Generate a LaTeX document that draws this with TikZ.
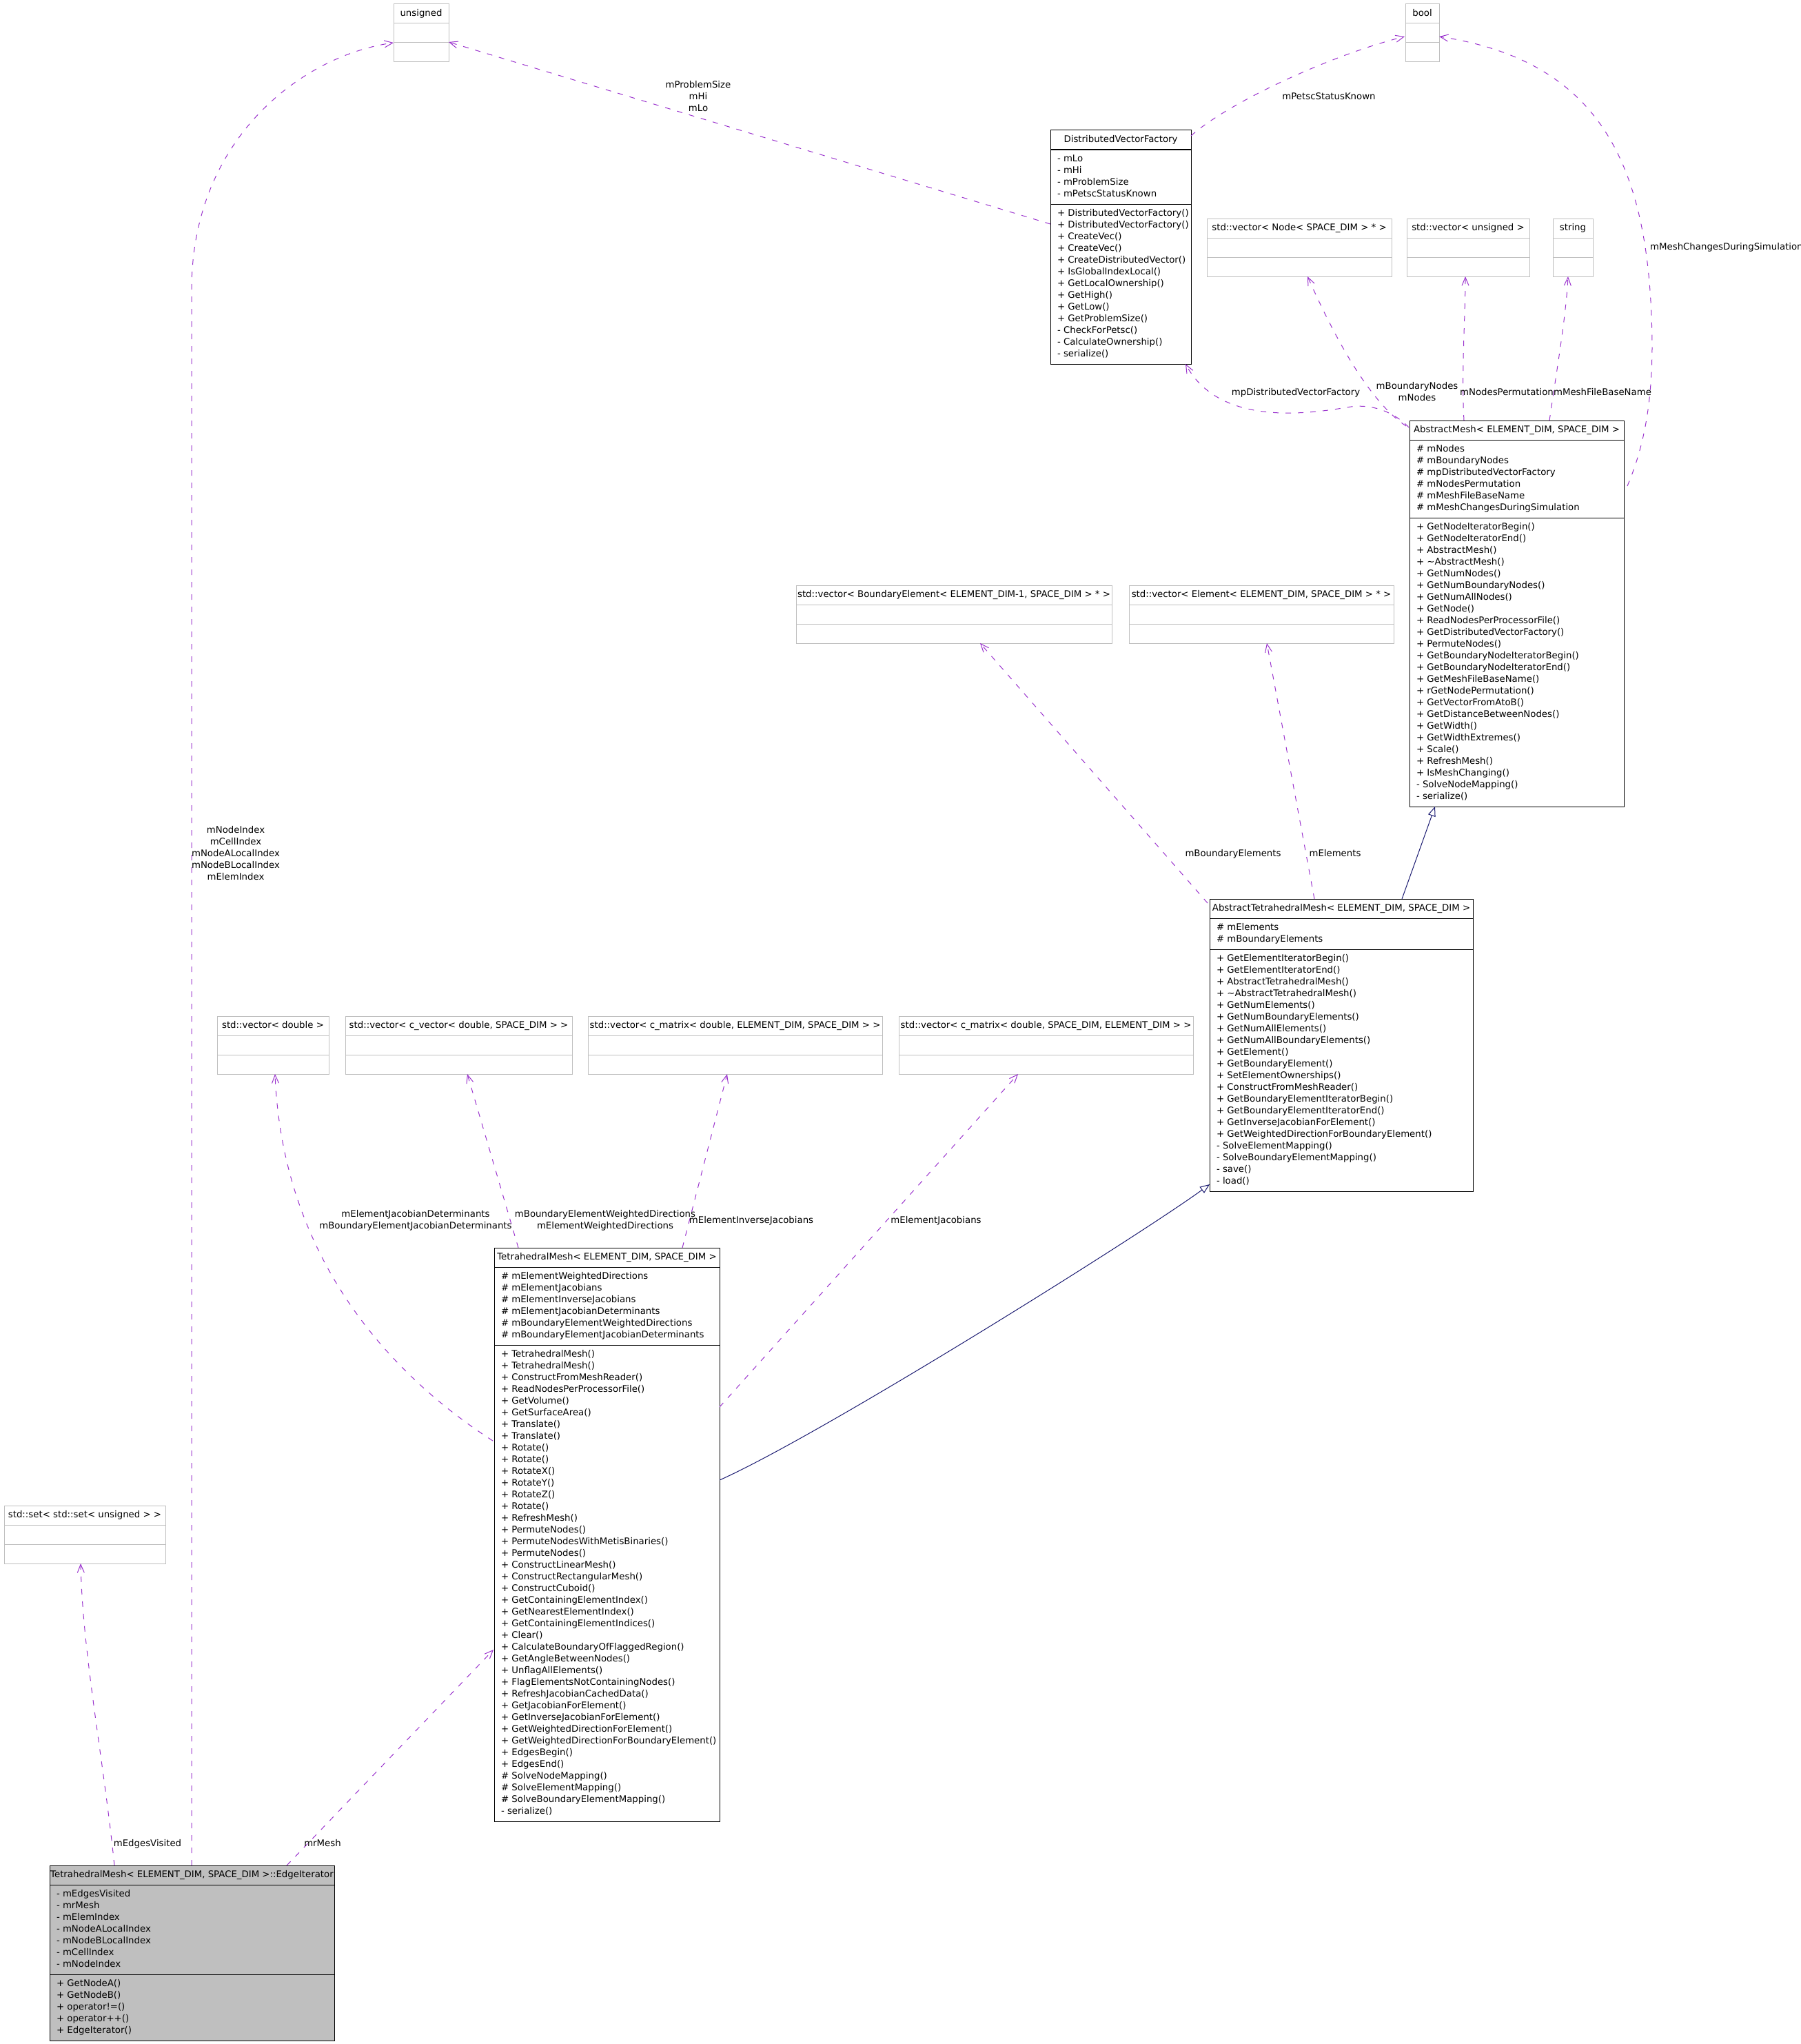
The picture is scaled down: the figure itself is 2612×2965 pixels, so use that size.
\documentclass[tikz,border=0pt]{standalone}
\usepackage{fontspec}
\newfontfamily\dvfont{DejaVu Sans}
\usetikzlibrary{arrows.meta,calc}
\definecolor{orch}{RGB}{154,50,205}
\definecolor{mnblue}{RGB}{25,25,112}
\definecolor{greyse}{RGB}{191,191,191}
\newcommand\classfont{\dvfont\fontsize{13.3}{17}\selectfont}
\tikzset{
  txt/.style={font=\classfont, inner sep=0pt, outer sep=0pt, text=black},
  clsbox/.style={draw=black, line width=1pt, fill=white},
  clsdiv/.style={draw=black, line width=1pt},
  eibox/.style={draw=black, line width=1pt, fill=greyse},
  typbox/.style={draw=greyse, line width=1pt, fill=white},
  typdiv/.style={draw=greyse, line width=1pt},
  usearrow/.style={draw=orch, line width=1pt, dash pattern=on 8pt off 10pt,
    -{Straight Barb[length=12pt,width=10pt,line width=1pt]}},
  inhearrow/.style={draw=mnblue, line width=1pt,
    -{Triangle[open,length=14pt,width=11pt,line width=1pt,fill=white]}},
  lbl/.style={font=\classfont, inner sep=0pt, align=center, text=black},
}
\newcommand\boxstyle{clsbox}
\newcommand\divstyle{clsdiv}
% name, x1, x2, ytop, nattr, nmeth, title, attrs, meths
\newcommand\umlbox[9]{%
  \pgfmathsetmacro\ya{#4+28}%
  \pgfmathsetmacro\yb{\ya+#5*17+11}%
  \pgfmathsetmacro\yc{\yb+#6*17+11}%
  \pgfmathsetmacro\bw{#3-#2}%
  \pgfmathsetmacro\bh{\yc-#4}%
  \node[\boxstyle, anchor=north west, minimum width=\bw pt, minimum height=\bh pt,
        inner sep=0pt, outer sep=0pt] (#1) at (#2,#4) {};
  \draw[\divstyle] (#2,\ya) -- (#3,\ya) (#2,\yb) -- (#3,\yb);
  \node[txt, anchor=base] (#1-title) at ({(#2+#3)/2},#4+17.5) {#7};
  \node[txt, anchor=north west, align=left] (#1-attr) at (#2+10,\ya+5.6) {\strut#8};
  \node[txt, anchor=north west, align=left] (#1-meth) at (#2+10,\yb+5.6) {\strut#9};
}
\begin{document}
\begin{tikzpicture}[x=1pt,y=-1pt]
\useasboundingbox (0,0) rectangle (2612,2965);

% ---------- type boxes (grey) ----------
\renewcommand\boxstyle{typbox}\renewcommand\divstyle{typdiv}
\umlbox{uns}{571}{651}{6}{1}{1}{unsigned}{}{}
\umlbox{bool}{2039}{2088}{6}{1}{1}{bool}{}{}
\umlbox{nv}{1751}{2019}{317}{1}{1}{std::vector< Node< SPACE\_DIM > * >}{}{}
\umlbox{uv}{2041}{2219}{317}{1}{1}{std::vector< unsigned >}{}{}
\umlbox{str}{2253}{2311}{317}{1}{1}{string}{}{}
\umlbox{bev}{1155}{1613}{849}{1}{1}{std::vector< BoundaryElement< ELEMENT\_DIM-1, SPACE\_DIM > * >}{}{}
\umlbox{ev}{1638}{2022}{849}{1}{1}{std::vector< Element< ELEMENT\_DIM, SPACE\_DIM > * >}{}{}
\umlbox{dbl}{315}{477}{1474}{1}{1}{std::vector< double >}{}{}
\umlbox{cvec}{501}{830}{1474}{1}{1}{std::vector< c\_vector< double, SPACE\_DIM > >}{}{}
\umlbox{cmes}{853}{1280}{1474}{1}{1}{std::vector< c\_matrix< double, ELEMENT\_DIM, SPACE\_DIM > >}{}{}
\umlbox{cmse}{1304}{1731}{1474}{1}{1}{std::vector< c\_matrix< double, SPACE\_DIM, ELEMENT\_DIM > >}{}{}
\umlbox{set}{6}{240}{2184}{1}{1}{std::set< std::set< unsigned > >}{}{}

% ---------- class boxes ----------
\renewcommand\boxstyle{clsbox}\renewcommand\divstyle{clsdiv}
\umlbox{dvf}{1524}{1728}{189}{4}{13}{DistributedVectorFactory}%
{- mLo\\- mHi\\- mProblemSize\\- mPetscStatusKnown}%
{+ DistributedVectorFactory()\\+ DistributedVectorFactory()\\+ CreateVec()\\+ CreateVec()\\+ CreateDistributedVector()\\+ IsGlobalIndexLocal()\\+ GetLocalOwnership()\\+ GetHigh()\\+ GetLow()\\+ GetProblemSize()\\- CheckForPetsc()\\- CalculateOwnership()\\- serialize()}

\umlbox{am}{2045}{2356}{610}{6}{24}{AbstractMesh< ELEMENT\_DIM, SPACE\_DIM >}%
{\# mNodes\\\# mBoundaryNodes\\\# mpDistributedVectorFactory\\\# mNodesPermutation\\\# mMeshFileBaseName\\\# mMeshChangesDuringSimulation}%
{+ GetNodeIteratorBegin()\\+ GetNodeIteratorEnd()\\+ AbstractMesh()\\+ \textasciitilde AbstractMesh()\\+ GetNumNodes()\\+ GetNumBoundaryNodes()\\+ GetNumAllNodes()\\+ GetNode()\\+ ReadNodesPerProcessorFile()\\+ GetDistributedVectorFactory()\\+ PermuteNodes()\\+ GetBoundaryNodeIteratorBegin()\\+ GetBoundaryNodeIteratorEnd()\\+ GetMeshFileBaseName()\\+ rGetNodePermutation()\\+ GetVectorFromAtoB()\\+ GetDistanceBetweenNodes()\\+ GetWidth()\\+ GetWidthExtremes()\\+ Scale()\\+ RefreshMesh()\\+ IsMeshChanging()\\- SolveNodeMapping()\\- serialize()}

\umlbox{atm}{1755}{2137}{1304}{2}{20}{AbstractTetrahedralMesh< ELEMENT\_DIM, SPACE\_DIM >}%
{\# mElements\\\# mBoundaryElements}%
{+ GetElementIteratorBegin()\\+ GetElementIteratorEnd()\\+ AbstractTetrahedralMesh()\\+ \textasciitilde AbstractTetrahedralMesh()\\+ GetNumElements()\\+ GetNumBoundaryElements()\\+ GetNumAllElements()\\+ GetNumAllBoundaryElements()\\+ GetElement()\\+ GetBoundaryElement()\\+ SetElementOwnerships()\\+ ConstructFromMeshReader()\\+ GetBoundaryElementIteratorBegin()\\+ GetBoundaryElementIteratorEnd()\\+ GetInverseJacobianForElement()\\+ GetWeightedDirectionForBoundaryElement()\\- SolveElementMapping()\\- SolveBoundaryElementMapping()\\- save()\\- load()}

\umlbox{tm}{717}{1044}{1810}{6}{40}{TetrahedralMesh< ELEMENT\_DIM, SPACE\_DIM >}%
{\# mElementWeightedDirections\\\# mElementJacobians\\\# mElementInverseJacobians\\\# mElementJacobianDeterminants\\\# mBoundaryElementWeightedDirections\\\# mBoundaryElementJacobianDeterminants}%
{+ TetrahedralMesh()\\+ TetrahedralMesh()\\+ ConstructFromMeshReader()\\+ ReadNodesPerProcessorFile()\\+ GetVolume()\\+ GetSurfaceArea()\\+ Translate()\\+ Translate()\\+ Rotate()\\+ Rotate()\\+ RotateX()\\+ RotateY()\\+ RotateZ()\\+ Rotate()\\+ RefreshMesh()\\+ PermuteNodes()\\+ PermuteNodesWithMetisBinaries()\\+ PermuteNodes()\\+ ConstructLinearMesh()\\+ ConstructRectangularMesh()\\+ ConstructCuboid()\\+ GetContainingElementIndex()\\+ GetNearestElementIndex()\\+ GetContainingElementIndices()\\+ Clear()\\+ CalculateBoundaryOfFlaggedRegion()\\+ GetAngleBetweenNodes()\\+ UnflagAllElements()\\+ FlagElementsNotContainingNodes()\\+ RefreshJacobianCachedData()\\+ GetJacobianForElement()\\+ GetInverseJacobianForElement()\\+ GetWeightedDirectionForElement()\\+ GetWeightedDirectionForBoundaryElement()\\+ EdgesBegin()\\+ EdgesEnd()\\\# SolveNodeMapping()\\\# SolveElementMapping()\\\# SolveBoundaryElementMapping()\\- serialize()}

\renewcommand\boxstyle{eibox}
\umlbox{ei}{72}{485}{2706}{7}{5}{TetrahedralMesh< ELEMENT\_DIM, SPACE\_DIM >::EdgeIterator}%
{- mEdgesVisited\\- mrMesh\\- mElemIndex\\- mNodeALocalIndex\\- mNodeBLocalIndex\\- mCellIndex\\- mNodeIndex}%
{+ GetNodeA()\\+ GetNodeB()\\+ operator!=()\\+ operator++()\\+ EdgeIterator()}

% ---------- connectors ----------
% EdgeIterator
\draw[usearrow] ($(ei.north west)+(206,0)$) -- (278,420) .. controls (278,200) and (440,80) .. ($(uns.north west)+(0,56)$);
\draw[usearrow] ($(ei.north west)+(94,0)$) .. controls (150,2550) and (120,2400) .. ($(set.south west)+(111,0)$);
\draw[usearrow] ($(ei.north west)+(344,0)$) -- ($(tm.north west)+(-1,583)$);
% TetrahedralMesh
\draw[usearrow] ($(tm.north west)+(-2,280)$) .. controls (560,1990) and (410,1820) .. ($(dbl.south west)+(84,0)$);
\draw[usearrow] ($(tm.north west)+(35,0)$) -- ($(cvec.south west)+(177,0)$);
\draw[usearrow] ($(tm.north west)+(273,0)$) -- ($(cmes.south west)+(202,0)$);
\draw[usearrow] ($(tm.north east)+(0,231)$) -- ($(cmse.south west)+(173,0)$);
\draw[inhearrow] ($(tm.north east)+(0,337)$) .. controls (1194,2080) and (1655,1791) .. ($(atm.south west)+(0,-10)$);
% AbstractTetrahedralMesh
\draw[inhearrow] ($(atm.north west)+(279,0)$) -- ($(am.south west)+(37,0)$);
\draw[usearrow] ($(atm.north west)+(-3,6)$) -- ($(bev.south west)+(267,0)$);
\draw[usearrow] ($(atm.north west)+(152,0)$) -- ($(ev.south west)+(200,0)$);
% AbstractMesh
\draw[usearrow] ($(am.north west)+(-1,10)$) .. controls (2030,605) and (2000,585) .. (1960,590) .. controls (1900,600) and (1770,620) .. ($(dvf.south east)+(-8,0)$);
\draw[usearrow] ($(am.north west)+(-5,8)$) .. controls (1980,578) and (1927,468) .. ($(nv.south west)+(146,0)$);
\draw[usearrow] ($(am.north west)+(79,0)$) .. controls (2120,540) and (2126,460) .. ($(uv.south west)+(85,0)$);
\draw[usearrow] ($(am.north west)+(203,0)$) .. controls (2258,540) and (2272,460) .. ($(str.south west)+(22,0)$);
\draw[usearrow] ($(am.north east)+(5,95)$) .. controls (2380,660) and (2397,600) .. (2397,500) .. controls (2395,250) and (2330,90) .. ($(bool.north east)+(0,47)$);
% DistributedVectorFactory
\draw[usearrow] ($(dvf.north east)+(0,8)$) .. controls (1780,150) and (1930,80) .. ($(bool.north west)+(-1,47)$);
\draw[usearrow] ($(dvf.north west)+(0,136)$) -- ($(uns.north east)+(0,55)$);

% ---------- labels ----------
\node[lbl, anchor=north] (l1) at (1013,115) {\strut mProblemSize\\mHi\\mLo};
\node[lbl, anchor=north] (l2) at (1928,132) {\strut mPetscStatusKnown};
\node[lbl, anchor=north west] (l3) at (2394,350) {\strut mMeshChangesDuringSimulation};
\node[lbl, anchor=north] (l4) at (1880,561) {\strut mpDistributedVectorFactory};
\node[lbl, anchor=north] (l5) at (2056,552) {\strut mBoundaryNodes\\mNodes};
\node[lbl, anchor=north] (l6) at (2186,561) {\strut mNodesPermutation};
\node[lbl, anchor=north] (l7) at (2325,561) {\strut mMeshFileBaseName};
\node[lbl, anchor=north] (l8) at (1789,1230) {\strut mBoundaryElements};
\node[lbl, anchor=north] (l9) at (1937,1230) {\strut mElements};
\node[lbl, anchor=north] (l10) at (342,1196) {\strut mNodeIndex\\mCellIndex\\mNodeALocalIndex\\mNodeBLocalIndex\\mElemIndex};
\node[lbl, anchor=north] (l11) at (603,1753) {\strut mElementJacobianDeterminants\\mBoundaryElementJacobianDeterminants};
\node[lbl, anchor=north] (l12) at (878,1753) {\strut mBoundaryElementWeightedDirections\\mElementWeightedDirections};
\node[lbl, anchor=north] (l13) at (1090,1762) {\strut mElementInverseJacobians};
\node[lbl, anchor=north] (l14) at (1358,1762) {\strut mElementJacobians};
\node[lbl, anchor=north] (l15) at (214,2666) {\strut mEdgesVisited};
\node[lbl, anchor=north] (l16) at (468,2666) {\strut mrMesh};
\end{tikzpicture}
\end{document}
